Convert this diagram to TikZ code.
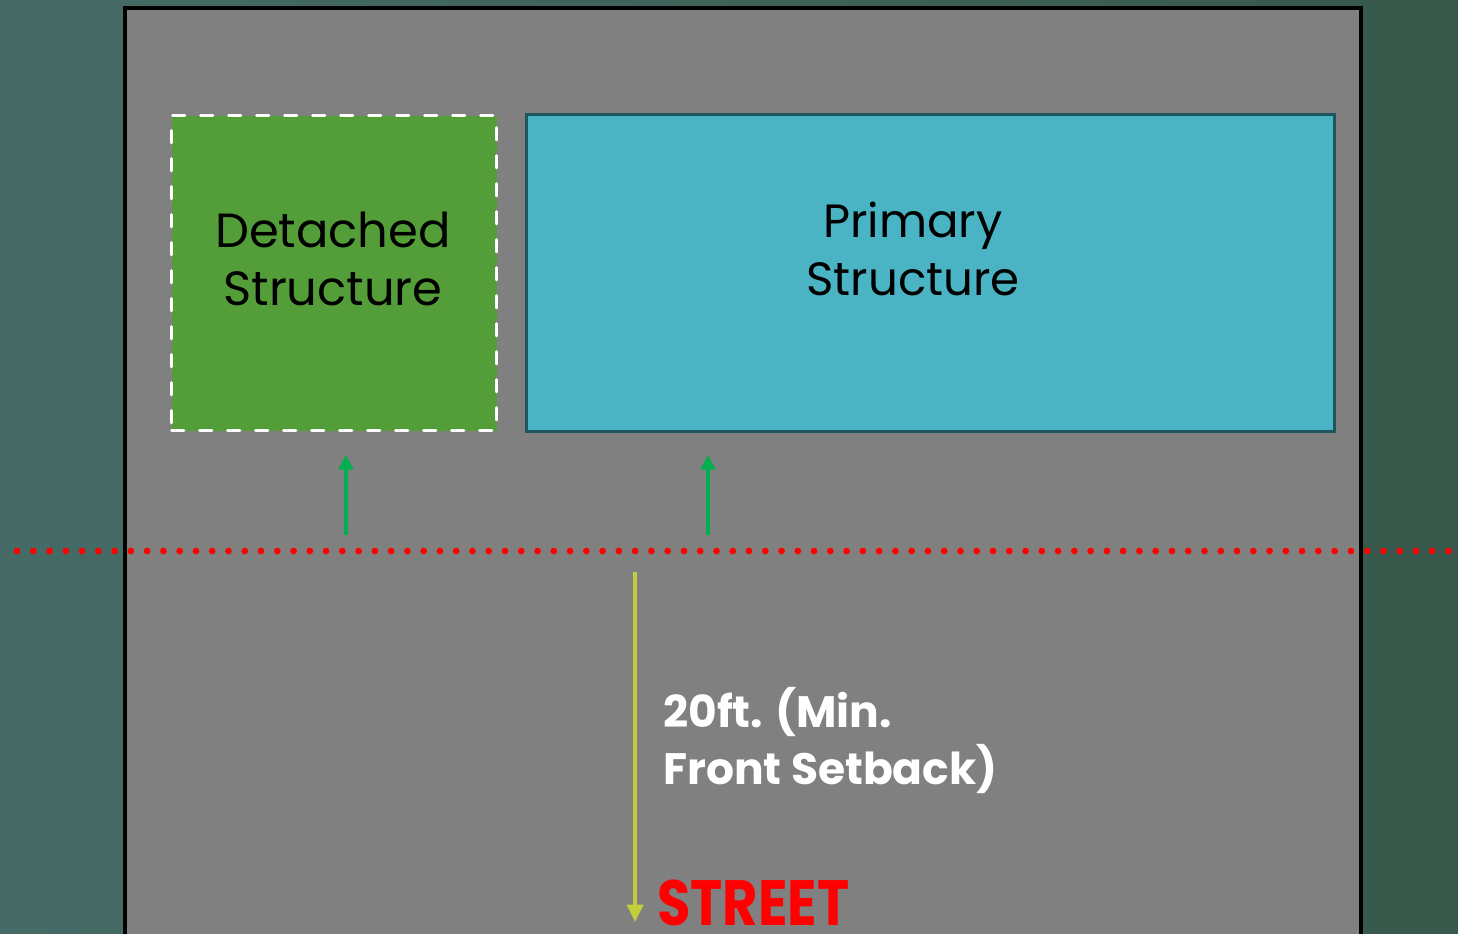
\documentclass[tikz,border=0pt]{standalone}
\usepackage{fontspec}
\usepackage{graphicx}
\setmainfont{Poppins}
\usetikzlibrary{arrows.meta}
\definecolor{bgL}{HTML}{466B66}
\definecolor{bgR}{HTML}{37594B}
\definecolor{lot}{HTML}{808080}
\definecolor{detgreen}{HTML}{549E39}
\definecolor{primblue}{HTML}{4AB3C4}
\definecolor{primedge}{HTML}{1D5560}
\definecolor{arrgreen}{HTML}{00B050}
\definecolor{arryellow}{HTML}{C2CE3C}
\begin{document}
\begin{tikzpicture}[x=0.75pt,y=-0.75pt,
  bldtext/.style={font=\fontsize{36}{43}\selectfont, align=center, text=black},
  uparrow/.style={draw=arrgreen, line width=2.6pt, -{Triangle[length=11pt,width=11pt]}},
  setback/.style={draw=arryellow, line width=2.6pt, -{Triangle[length=13pt,width=12pt]}}]
\useasboundingbox (0,0) rectangle (1458,933);
\shade[left color=bgL, right color=bgR] (0,0) rectangle (1458,933);
% lot
\node[draw=black, line width=3pt, fill=lot, inner sep=0pt, minimum width=1236*0.75pt, minimum height=960*0.75pt, anchor=north west] (lot) at (123,6) {};
% detached
\node[fill=detgreen, draw=white, line width=2.6pt, dash pattern=on 9pt off 12pt, line cap=round, inner sep=0pt, minimum width=325*0.75pt, minimum height=315*0.75pt, anchor=north west] (det) at (170,114) {};
\node[bldtext] (dettxt) at (333,259) {Detached\\Structure};
% primary
\node[fill=primblue, draw=primedge, line width=2.6pt, inner sep=0pt, minimum width=808*0.75pt, minimum height=317*0.75pt, anchor=north west] (prim) at (525,113) {};
\node[bldtext, font=\fontsize{35}{43}\selectfont] (primtxt) at (913,249) {Primary\\Structure};
% setback line
\coordinate (sbL) at (17,551);
\coordinate (sbR) at (1458,551);
\draw[red, line width=5pt, line cap=round, dash pattern=on 0pt off 12.2pt] (sbL) -- (sbR);
% green arrows
\coordinate (a1s) at (346,535);
\coordinate (a1e) at (346,455);
\coordinate (a2s) at (708,535);
\coordinate (a2e) at (708,455);
\draw[uparrow] (a1s) -- (a1e);
\draw[uparrow] (a2s) -- (a2e);
% yellow arrow
\coordinate (ys) at (635,572);
\coordinate (ye) at (635,922);
\draw[setback] (ys) -- (ye);
\node[anchor=north west, align=left, text=white, font=\bfseries\fontsize{33}{43}\selectfont, inner sep=0pt] (sbtxt) at (663,687) {20ft. (Min.\\Front Setback)};
\node[anchor=south west, inner sep=0pt, text=red, font=\bfseries\fontsize{48}{48}\selectfont] (street) at (657,926) {\scalebox{0.85}[1]{STREET}};
\end{tikzpicture}
\end{document}
